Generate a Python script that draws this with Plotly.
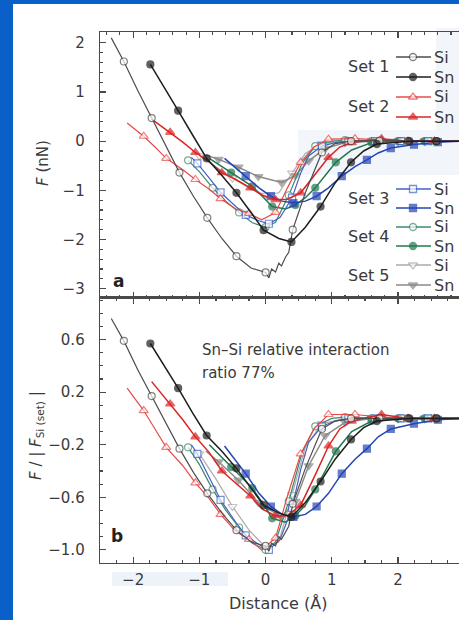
import plotly.graph_objects as go
from plotly.subplots import make_subplots

# ---------------- data ----------------
SET_NAMES = ["Set 1", "Set 2", "Set 3", "Set 4", "Set 5"]
TIP_NAMES = ["Si", "Sn"]

S1_SI_X = [-2.33, -2.14, -1.93, -1.72, -1.50, -1.30, -1.09, -0.88, -0.66, -0.44, -0.22, 0.00, 0.05, 0.09,
           0.15, 0.20, 0.24, 0.30, 0.35, 0.41, 0.60, 0.85, 1.05, 1.29, 1.72, 2.15, 2.58, 2.95]
S1_SI_A = [2.10, 1.62, 1.03, 0.47, -0.10, -0.64, -1.12, -1.56, -1.98, -2.34, -2.58, -2.67, -2.78, -2.60,
           -2.66, -2.48, -2.54, -2.36, -2.26, -1.80, -1.05, -0.23, -0.05, 0.00, 0.01, 0.00, 0.00, 0.00]
S1_SI_B = [0.76, 0.59, 0.37, 0.17, -0.04, -0.23, -0.41, -0.57, -0.72, -0.85, -0.94, -0.97, -1.01, -0.95,
           -0.97, -0.90, -0.92, -0.86, -0.82, -0.65, -0.38, -0.08, -0.02, 0.00, 0.00, 0.00, 0.00, 0.00]

S1_SN_X = [-1.74, -1.53, -1.32, -1.10, -0.89, -0.66, -0.44, -0.22, -0.03, 0.20, 0.39, 0.60, 0.83, 1.05,
           1.29, 1.48, 1.68, 2.17, 2.58, 2.95]
S1_SN_A = [1.56, 1.10, 0.62, 0.12, -0.35, -0.70, -1.05, -1.45, -1.81, -1.98, -2.05, -1.75, -1.33, -0.85,
           -0.43, -0.20, -0.06, 0.00, 0.00, 0.00]
S1_SN_B = [0.57, 0.40, 0.23, 0.04, -0.13, -0.25, -0.38, -0.53, -0.66, -0.72, -0.75, -0.64, -0.48, -0.31,
           -0.16, -0.07, -0.02, 0.00, 0.00, 0.00]

S2_SI_X = [-2.09, -1.84, -1.67, -1.50, -1.25, -1.06, -0.85, -0.68, -0.45, -0.25, -0.06, 0.15, 0.33, 0.53,
           0.73, 0.95, 1.35, 1.75, 2.15, 2.55, 2.95]
S2_SI_A = [0.37, 0.10, -0.12, -0.35, -0.58, -0.78, -0.98, -1.17, -1.38, -1.47, -1.60, -1.45, -0.95, -0.43,
           -0.12, 0.04, 0.05, 0.02, 0.00, 0.00, 0.00]
S2_SI_B = [0.23, 0.06, -0.08, -0.22, -0.36, -0.49, -0.61, -0.73, -0.86, -0.92, -1.00, -0.91, -0.59, -0.27,
           -0.08, 0.03, 0.03, 0.01, 0.00, 0.00, 0.00]

S2_SN_X = [-1.72, -1.44, -1.25, -1.06, -0.85, -0.66, -0.45, -0.23, -0.05, 0.15, 0.33, 0.53, 0.75, 0.95,
           1.12, 1.30, 1.75, 2.15, 2.55, 2.95]
S2_SN_A = [0.45, 0.18, -0.02, -0.23, -0.42, -0.64, -0.78, -0.95, -1.10, -1.19, -1.18, -1.05, -0.68, -0.33,
           -0.12, -0.03, 0.05, 0.00, 0.00, 0.00]
S2_SN_B = [0.28, 0.11, -0.01, -0.14, -0.26, -0.40, -0.49, -0.59, -0.69, -0.74, -0.74, -0.66, -0.43, -0.21,
           -0.08, -0.02, 0.03, 0.00, 0.00, 0.00]

S3_SI_X = [-1.12, -1.03, -0.85, -0.68, -0.45, -0.30, -0.10, 0.05, 0.22, 0.40, 0.53, 0.65, 0.85, 1.05,
           1.25, 1.65, 2.05, 2.45, 2.95]
S3_SI_A = [-0.33, -0.45, -0.75, -1.04, -1.33, -1.50, -1.62, -1.68, -1.55, -1.15, -0.65, -0.30, -0.10, -0.03,
           0.00, 0.00, 0.00, 0.00, 0.00]
S3_SI_B = [-0.20, -0.27, -0.45, -0.62, -0.79, -0.89, -0.96, -1.00, -0.92, -0.68, -0.39, -0.18, -0.06, -0.02,
           0.00, 0.00, 0.00, 0.00, 0.00]

S3_SN_X = [-0.62, -0.30, -0.10, 0.08, 0.25, 0.42, 0.60, 0.77, 0.95, 1.15, 1.35, 1.53, 1.70, 1.89,
           2.24, 2.60, 2.95]
S3_SN_A = [-0.35, -0.71, -0.95, -1.12, -1.22, -1.26, -1.22, -1.12, -0.95, -0.71, -0.52, -0.38, -0.24, -0.14,
           -0.07, -0.02, 0.00]
S3_SN_B = [-0.21, -0.42, -0.57, -0.67, -0.73, -0.75, -0.73, -0.67, -0.57, -0.42, -0.31, -0.23, -0.14, -0.08,
           -0.04, -0.01, 0.00]

S4_SI_X = [-1.17, -1.00, -0.80, -0.60, -0.40, -0.20, 0.00, 0.15, 0.35, 0.55, 0.75, 1.00, 1.20, 1.60,
           2.05, 2.50, 2.95]
S4_SI_A = [-0.39, -0.62, -0.95, -1.22, -1.45, -1.66, -1.75, -1.65, -1.10, -0.45, -0.10, 0.00, 0.02, 0.00,
           0.00, 0.00, 0.00]
S4_SI_B = [-0.22, -0.35, -0.54, -0.70, -0.83, -0.95, -1.00, -0.94, -0.63, -0.26, -0.06, 0.00, 0.01, 0.00,
           0.00, 0.00, 0.00]

S4_SN_X = [-0.85, -0.52, -0.35, -0.20, -0.05, 0.10, 0.30, 0.45, 0.60, 0.75, 0.90, 1.06, 1.30, 1.60,
           2.00, 2.40, 2.95]
S4_SN_A = [-0.35, -0.64, -0.78, -0.92, -1.12, -1.33, -1.38, -1.30, -1.15, -0.95, -0.70, -0.43, -0.18, -0.03,
           0.00, 0.00, 0.00]
S4_SN_B = [-0.20, -0.37, -0.45, -0.53, -0.64, -0.76, -0.79, -0.74, -0.66, -0.54, -0.40, -0.25, -0.10, -0.02,
           0.00, 0.00, 0.00]

S5_SI_X = [-1.00, -0.75, -0.50, -0.25, 0.00, 0.20, 0.40, 0.60, 0.85, 1.20, 1.60, 2.00, 2.40, 2.95]
S5_SI_A = [-0.30, -0.52, -0.75, -0.95, -1.10, -1.05, -0.65, -0.25, -0.05, 0.00, 0.00, 0.00, 0.00, 0.00]
S5_SI_B = [-0.27, -0.46, -0.67, -0.85, -0.98, -0.94, -0.58, -0.22, -0.04, 0.00, 0.00, 0.00, 0.00, 0.00]

S5_SN_X = [-0.90, -0.71, -0.41, -0.11, 0.24, 0.45, 0.65, 0.90, 1.20, 1.60, 2.00, 2.40, 2.95]
S5_SN_A = [-0.28, -0.37, -0.53, -0.72, -0.84, -0.70, -0.40, -0.15, -0.03, 0.00, 0.00, 0.00, 0.00]
S5_SN_B = [-0.25, -0.33, -0.47, -0.64, -0.75, -0.63, -0.36, -0.13, -0.03, 0.00, 0.00, 0.00, 0.00]

Y_A_TICKS = [-3, -2, -1, 0, 1, 2]
Y_B_TICKS = [-1.0, -0.6, -0.2, 0.2, 0.6]
Y_B_LABELS = ["−1.0", "−0.6", "−0.2", "0.2", "0.6"]
X_TICKS = [-2, -1, 0, 1, 2]

# ---------------- styles ----------------
FONT = "DejaVu Sans, Liberation Sans, Arial, sans-serif"
TXT = "#3a3a3a"
AX = "#4a4a4a"

SERIES = [
    # set index, tip, x, ya, yb, color, symbol, open?, marked indices
    (4, "Si", S5_SI_X, S5_SI_A, S5_SI_B, "#ababab", "triangle-down", True, [0, 2, 4, 6, 8, 9, 10, 11, 12]),
    (4, "Sn", S5_SN_X, S5_SN_A, S5_SN_B, "#8a8a8a", "triangle-down", False, [1, 2, 3, 4, 5, 6, 7, 8, 9, 10, 11]),
    (3, "Si", S4_SI_X, S4_SI_A, S4_SI_B, "#3f8a6a", "circle", True, [0, 2, 4, 6, 8, 10, 12, 13, 14, 15]),
    (3, "Sn", S4_SN_X, S4_SN_A, S4_SN_B, "#22784f", "circle", False, [1, 3, 5, 7, 9, 11, 13, 14, 15]),
    (2, "Si", S3_SI_X, S3_SI_A, S3_SI_B, "#4262c8", "square", True, [1, 3, 5, 7, 9, 12, 14, 15, 16, 17]),
    (2, "Sn", S3_SN_X, S3_SN_A, S3_SN_B, "#2446b4", "square", False, [1, 3, 5, 7, 9, 11, 13, 14, 15]),
    (1, "Si", S2_SI_X, S2_SI_A, S2_SI_B, "#e84a4a", "triangle-up", True, [1, 3, 5, 7, 9, 11, 13, 15, 16, 17, 18, 19]),
    (1, "Sn", S2_SN_X, S2_SN_A, S2_SN_B, "#dc2424", "triangle-up", False, [1, 3, 5, 7, 9, 11, 13, 15, 16, 17, 18]),
    (0, "Si", S1_SI_X, S1_SI_A, S1_SI_B, "#4d4d4d", "circle", True, [1, 3, 5, 7, 9, 11, 19, 21, 23, 24, 25, 26]),
    (0, "Sn", S1_SN_X, S1_SN_A, S1_SN_B, "#1e1e1e", "circle", False, [0, 2, 4, 6, 8, 10, 12, 14, 16, 17, 18]),
]

W, H = 459, 620
L, R, T, B = 100, 0, 32, 57
PW, PH = W - L - R, H - T - B


def px(xp):
    return (xp - L) / PW


def py(yp):
    return (H - B - yp) / PH


fig = make_subplots(rows=2, cols=1, shared_xaxes=True, vertical_spacing=0)

for s, tip, xs, ya, yb, col, sym, is_open, mk in SERIES:
    big = 8 if sym.startswith("triangle") else 7
    sizes = [big if i in mk else 0 for i in range(len(xs))]
    marker = dict(symbol=sym, size=sizes,
                  color="white" if is_open else col,
                  line=dict(color=col, width=1.2))
    for row, ys in ((1, ya), (2, yb)):
        fig.add_trace(go.Scatter(x=xs, y=ys, mode="lines+markers",
                                 line=dict(color=col, width=1.2 if is_open else 1.5),
                                 marker=marker, showlegend=False, hoverinfo="skip",
                                 name=f"{SET_NAMES[s]} {tip}"),
                      row=row, col=1)

# ---------------- legend (overlay axis in pixel units) ----------------
LEG_ROWS = {0: (57, 77, 66), 1: (97, 117, 106), 2: (189, 208, 199), 3: (227, 246, 236), 4: (265, 285, 275)}
for s, tip, xs, ya, yb, col, sym, is_open, mk in SERIES:
    yr = LEG_ROWS[s][0] if tip == "Si" else LEG_ROWS[s][1]
    big = 8 if sym.startswith("triangle") else 7
    fig.add_trace(go.Scatter(x=[396, 413, 431], y=[yr, yr, yr], mode="lines+markers",
                             xaxis="x3", yaxis="y3",
                             line=dict(color=col, width=1.3),
                             marker=dict(symbol=sym, size=[0, big, 0],
                                         color="white" if is_open else col,
                                         line=dict(color=col, width=1.3)),
                             showlegend=False, hoverinfo="skip", cliponaxis=False))

annotations = []
for s in range(5):
    r1, r2, ym = LEG_ROWS[s]
    annotations.append(dict(x=px(392), y=py(ym), xref="paper", yref="paper", text=SET_NAMES[s],
                            showarrow=False, xanchor="right", yanchor="middle",
                            font=dict(family=FONT, size=16, color=TXT)))
    for yr, tip in ((r1, TIP_NAMES[0]), (r2, TIP_NAMES[1])):
        annotations.append(dict(x=px(432), y=py(yr), xref="paper", yref="paper", text=tip,
                                showarrow=False, xanchor="left", yanchor="middle",
                                font=dict(family=FONT, size=16, color=TXT)))

annotations += [
    dict(x=px(111), y=py(281), xref="paper", yref="paper", text="<b>a</b>", showarrow=False,
         xanchor="left", yanchor="middle", font=dict(family=FONT, size=17, color="#222")),
    dict(x=px(109), y=py(536), xref="paper", yref="paper", text="<b>b</b>", showarrow=False,
         xanchor="left", yanchor="middle", font=dict(family=FONT, size=17, color="#222")),
    dict(x=px(200), y=py(350), xref="paper", yref="paper", text="Sn–Si relative interaction",
         showarrow=False, xanchor="left", yanchor="middle", font=dict(family=FONT, size=15, color=TXT)),
    dict(x=px(200), y=py(373), xref="paper", yref="paper", text="ratio 77%",
         showarrow=False, xanchor="left", yanchor="middle", font=dict(family=FONT, size=15, color=TXT)),
    dict(x=px(43), y=py(163), xref="paper", yref="paper", text="<i>F</i> (nN)", textangle=-90,
         showarrow=False, xanchor="center", yanchor="middle", font=dict(family=FONT, size=15, color=TXT)),
    dict(x=px(36), y=py(436), xref="paper", yref="paper",
         text="<i>F</i> / | <i>F</i><sub>Si (set)</sub> |", textangle=-90,
         showarrow=False, xanchor="center", yanchor="middle", font=dict(family=FONT, size=15, color=TXT)),
    dict(x=px(278), y=py(603), xref="paper", yref="paper", text="Distance (Å)",
         showarrow=False, xanchor="center", yanchor="middle", font=dict(family=FONT, size=16, color=TXT)),
]

shapes = [
    # faint scan patches
    dict(type="rect", xref="paper", yref="paper", x0=px(298), x1=px(459), y0=py(175), y1=py(130),
         fillcolor="#f2f5f9", line_width=0, layer="below"),
    dict(type="rect", xref="paper", yref="paper", x0=px(436), x1=px(459), y0=py(130), y1=py(28),
         fillcolor="#f2f5f9", line_width=0, layer="below"),
    dict(type="rect", xref="paper", yref="paper", x0=px(112), x1=px(228), y0=py(586), y1=py(572),
         fillcolor="#eef3f9", line_width=0, layer="below"),
    # blue frame of the photo
    dict(type="rect", xref="paper", yref="paper", x0=px(-5), x1=px(13), y0=py(630), y1=py(-5),
         fillcolor="#0b5fc8", line_width=0, layer="above"),
    dict(type="rect", xref="paper", yref="paper", x0=px(-5), x1=px(465), y0=py(4), y1=py(-5),
         fillcolor="#0b5fc8", line_width=0, layer="above"),
]

tickfont = dict(family=FONT, size=15, color=TXT)
common_x = dict(range=[-2.5, 2.92], showline=True, linecolor=AX, linewidth=1.3, mirror="allticks",
                ticks="inside", ticklen=6, tickwidth=1.2, tickcolor=AX, tickmode="array",
                tickvals=X_TICKS, showgrid=False, zeroline=False, tickfont=tickfont)
fig.update_xaxes(**common_x, minor=dict(dtick=0.2, tick0=0, ticklen=3, tickcolor=AX, ticks="inside"),
                 showticklabels=False, row=1, col=1)
fig.update_xaxes(**common_x, minor=dict(dtick=0.25, tick0=0, ticklen=3, tickcolor=AX, ticks="inside"),
                 showticklabels=True, ticklabelstandoff=3, row=2, col=1)

common_y = dict(showline=True, linecolor=AX, linewidth=1.3, mirror=False, ticks="inside", ticklen=6,
                tickwidth=1.2, tickcolor=AX, showgrid=False, zeroline=False, tickfont=tickfont,
                ticklabelstandoff=11)
fig.update_yaxes(**common_y, range=[-3.18, 2.22], tickmode="array", tickvals=Y_A_TICKS,
                 minor=dict(dtick=0.2, tick0=0, ticklen=3, tickcolor=AX, ticks="inside"), row=1, col=1)
fig.update_yaxes(**common_y, range=[-1.10, 0.92], tickmode="array", tickvals=Y_B_TICKS,
                 ticktext=Y_B_LABELS,
                 minor=dict(dtick=0.1, tick0=0, ticklen=3, tickcolor=AX, ticks="inside"), row=2, col=1)

fig.update_layout(
    width=W, height=H,
    margin=dict(l=L, r=R, t=T, b=B, autoexpand=False),
    paper_bgcolor="white", plot_bgcolor="rgba(0,0,0,0)",
    showlegend=False,
    annotations=annotations, shapes=shapes,
    xaxis3=dict(domain=[0, 1], range=[L, W - R], anchor="y3", visible=False, fixedrange=True),
    yaxis3=dict(domain=[0, 1], range=[H - B, T], anchor="x3", visible=False, fixedrange=True),
)

fig.write_html("out.html", config={"displayModeBar": False, "staticPlot": True})

# remove the browser's default page margin so the figure sits at the window's corner
with open("out.html", "r", encoding="utf-8") as fh:
    page = fh.read()
page = page.replace("<body>", '<body style="margin:0;padding:0;overflow:hidden;">', 1)
with open("out.html", "w", encoding="utf-8") as fh:
    fh.write(page)
